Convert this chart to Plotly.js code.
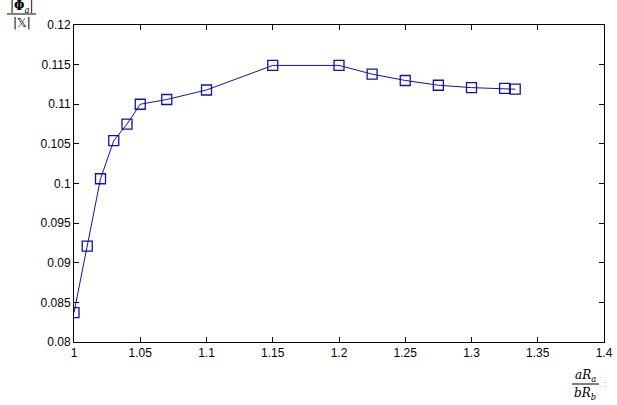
<!DOCTYPE html>
<html>
<head>
<meta charset="utf-8">
<script src="https://cdn.plot.ly/plotly-3.0.1.min.js"></script>
<style>html,body{margin:0;padding:0;background:#fff;}#chart{width:617px;height:405px;}</style>
</head>
<body>
<div id="chart"></div>
<script>
const ratio = [1.0, 1.01, 1.02, 1.03, 1.04, 1.05, 1.07, 1.1, 1.15, 1.2, 1.225, 1.25, 1.275, 1.3, 1.325, 1.333];
const phiOverX = [0.0837, 0.0921, 0.1006, 0.1054, 0.1075, 0.1100, 0.1106, 0.1118, 0.1149, 0.1149, 0.1138, 0.1130, 0.1124, 0.1121, 0.1120, 0.1119];
const xTicks = [1, 1.05, 1.1, 1.15, 1.2, 1.25, 1.3, 1.35, 1.4];
const xTickText = ['1', '1.05', '1.1', '1.15', '1.2', '1.25', '1.3', '1.35', '1.4'];
const yTicks = [0.08, 0.085, 0.09, 0.095, 0.1, 0.105, 0.11, 0.115, 0.12];
const yTickText = ['0.08', '0.085', '0.09', '0.095', '0.1', '0.105', '0.11', '0.115', '0.12'];

const color = '#1212a6';
const trace = {
  x: ratio, y: phiOverX, type: 'scatter', mode: 'lines+markers',
  line: {color: color, width: 1},
  marker: {symbol: 'square-open', size: 10, color: color, line: {width: 1.3, color: color}},
  hoverinfo: 'skip', showlegend: false
};
const axisCommon = {
  showgrid: false, zeroline: false, showline: true, mirror: 'ticks',
  linecolor: '#000', linewidth: 1, ticks: 'inside', ticklen: 5, tickcolor: '#000',
  tickfont: {family: 'Liberation Sans, Arial, sans-serif', size: 12, color: '#000'}
};
const layout = {
  width: 617, height: 405,
  margin: {l: 74, r: 13, t: 25, b: 63},
  paper_bgcolor: '#fff', plot_bgcolor: '#fff',
  xaxis: Object.assign({}, axisCommon, {range: [1, 1.4], tickmode: 'array', tickvals: xTicks, ticktext: xTickText}),
  yaxis: Object.assign({}, axisCommon, {range: [0.08, 0.12], tickmode: 'array', tickvals: yTicks, ticktext: yTickText}),
  annotations: [
    {xref: 'paper', yref: 'paper', x: -0.099, y: 1.0347, xanchor: 'center', yanchor: 'bottom', yshift: -2, borderpad: 0,
     text: '|<b>Φ</b><sub><i>a</i></sub>|', showarrow: false,
     font: {family: 'DejaVu Serif, serif', size: 12, color: '#000'}},
    {xref: 'paper', yref: 'paper', x: -0.099, y: 1.0347, xanchor: 'center', yanchor: 'top', yshift: -1, borderpad: 0,
     text: '|𝕏|', showarrow: false,
     font: {family: 'DejaVu Sans, serif', size: 12, color: '#000'}},
    {xref: 'paper', yref: 'paper', x: 0.965, y: -0.1325, xanchor: 'center', yanchor: 'bottom', yshift: -1, borderpad: 0,
     text: '<i>aR</i><sub><i>a</i></sub>', showarrow: false,
     font: {family: 'DejaVu Serif, serif', size: 12, color: '#000'}},
    {xref: 'paper', yref: 'paper', x: 0.965, y: -0.1325, xanchor: 'center', yanchor: 'top', yshift: -1, borderpad: 0,
     text: '<i>bR</i><sub><i>b</i></sub>', showarrow: false,
     font: {family: 'DejaVu Serif, serif', size: 12, color: '#000'}},
    {xref: 'paper', yref: 'paper', x: 0.997, y: -0.1325, xanchor: 'left', yanchor: 'middle', yshift: 0,
     text: ':', showarrow: false,
     font: {family: 'Liberation Sans, sans-serif', size: 9, color: '#999'}}
  ],
  shapes: [
    {type: 'line', xref: 'paper', yref: 'paper', x0: -0.1264, x1: -0.0717, y0: 1.0347, y1: 1.0347, line: {color: '#000', width: 1}},
    {type: 'line', xref: 'paper', yref: 'paper', x0: 0.9396, x1: 0.9906, y0: -0.1325, y1: -0.1325, line: {color: '#000', width: 1}}
  ]
};
Plotly.newPlot('chart', [trace], layout, {staticPlot: true, displayModeBar: false});
</script>
</body>
</html>
